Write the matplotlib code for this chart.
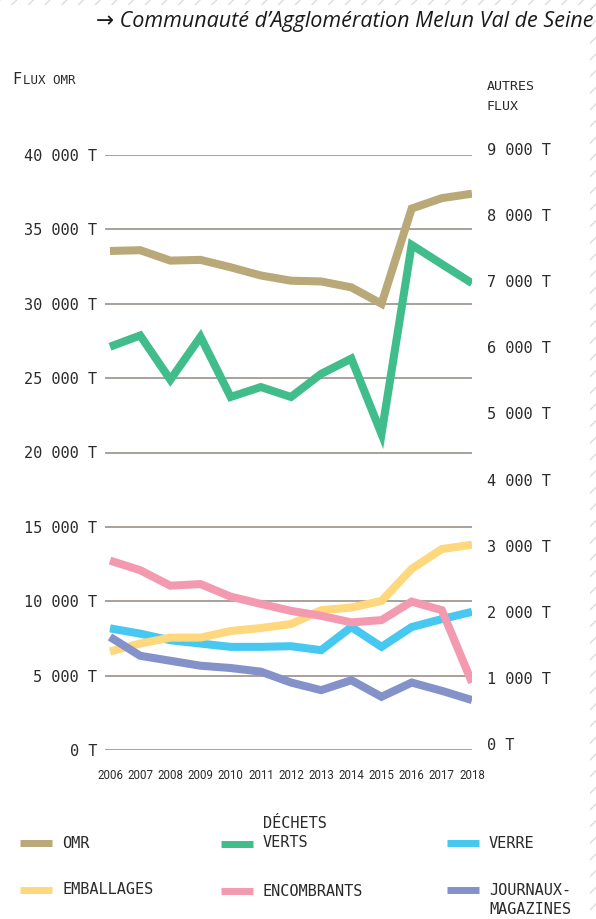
import matplotlib
matplotlib.use("Agg")
import matplotlib.pyplot as plt
import matplotlib.transforms as mtransforms
from matplotlib.lines import Line2D
from matplotlib.patches import Rectangle

# Data (tonnes per year)
years = list(range(2006, 2019))
omr = [33550, 33600, 32900, 32950, 32450, 31900, 31550, 31500, 31100, 30000, 36400, 37100, 37400]
dechets_verts = [6100, 6270, 5600, 6250, 5340, 5490, 5340, 5690, 5920, 4780, 7640, 7350, 7060]
verre = [1840, 1760, 1660, 1610, 1560, 1560, 1570, 1510, 1860, 1560, 1860, 1980, 2090]
emballages = [1490, 1610, 1700, 1700, 1800, 1845, 1905, 2115, 2155, 2255, 2740, 3040, 3105]
encombrants = [2865, 2720, 2485, 2510, 2320, 2210, 2105, 2030, 1930, 1965, 2245, 2115, 1020]
journaux = [1710, 1425, 1350, 1275, 1240, 1185, 1020, 905, 1055, 805, 1020, 895, 755]

left_ticks = [0, 5000, 10000, 15000, 20000, 25000, 30000, 35000, 40000]
right_ticks = [0, 1000, 2000, 3000, 4000, 5000, 6000, 7000, 8000, 9000]

colors = {
    "omr": "#b9a878",
    "verts": "#40bd8b",
    "verre": "#46c8f1",
    "emballages": "#ffd77c",
    "encombrants": "#f49ab0",
    "journaux": "#8591c9",
}

W, H = 596, 919
MONO = "DejaVu Sans Mono"
TXT = "#2a2a2a"


def fx(x):
    return x / W


def fy(y):
    return 1 - y / H


def fmt(v):
    return f"{v:,}".replace(",", " ") + " T"


fig = plt.figure(figsize=(W / 100, H / 100), dpi=100)

# hatched frame along top and right edge
for r in [Rectangle((0, fy(5)), 1, 5 / H), Rectangle((fx(590), 0), 6 / W, 1)]:
    r.set_transform(fig.transFigure)
    r.set_fill(False)
    r.set_hatch("//")
    r.set_edgecolor("#dcdcdc")
    r.set_linewidth(0)
    fig.patches.append(r)

ax = fig.add_axes([fx(105), fy(750), fx(472) - fx(105), fy(155) - fy(750)])
ax2 = ax.twinx()

lw = 5.8
ax.plot(years, omr, color=colors["omr"], lw=lw, solid_joinstyle="miter", solid_capstyle="butt")
for key, vals in [("verts", dechets_verts), ("verre", verre), ("emballages", emballages),
                  ("encombrants", encombrants), ("journaux", journaux)]:
    ax2.plot(years, vals, color=colors[key], lw=lw, solid_joinstyle="miter", solid_capstyle="butt")

step = (472 - 110) / 12
ax.set_xlim(2006 - 5 / step, 2018)
ax.set_ylim(0, 40000)
ax2.set_ylim(0, 9000)

ax.set_yticks(left_ticks)
ax.set_yticklabels([fmt(v) for v in left_ticks], fontsize=11, family=MONO, color=TXT)
ax2.set_yticks(right_ticks)
ax2.set_yticklabels([fmt(v) for v in right_ticks], fontsize=11, family=MONO, color=TXT)
ax.set_xticks(years)
ax.set_xticklabels([str(y) for y in years], fontsize=8.3, family="Roboto", color=TXT)

ax.tick_params(axis="y", length=0, pad=5.5)
ax.tick_params(axis="x", length=0, pad=14)
ax2.tick_params(axis="y", length=0, pad=10.5)

ax.yaxis.grid(True, color="#a39893", lw=1.3)
ax.set_axisbelow(True)
for a in (ax, ax2):
    for s in a.spines.values():
        s.set_visible(False)

# right labels sit a little higher than the gridlines
shift = mtransforms.ScaledTranslation(0, 6 / 100, fig.dpi_scale_trans)
for t in ax2.yaxis.get_major_ticks():
    t.label2.set_transform(t.label2.get_transform() + shift)

# titles
fig.text(fx(593), fy(21), "\u2192 Communauté d\u2019Agglomération Melun Val de Seine",
         ha="right", va="center", fontsize=15.5, family=["Open Sans", "DejaVu Sans"],
         style="italic", color="#1a1a1a")
fig.text(fx(12), fy(80), "F", ha="left", va="center", fontsize=11, family=MONO, color=TXT)
fig.text(fx(23), fy(81), "LUX OMR", ha="left", va="center", fontsize=9, family=MONO, color=TXT)
fig.text(fx(487), fy(80), "AUTRES\nFLUX", ha="left", va="top", fontsize=9.5, family=MONO,
         color=TXT, linespacing=1.75)

# legend
legend_items = [
    ("OMR", "omr", 20, 843, 843),
    ("DÉCHETS\nVERTS", "verts", 221, 844, 833),
    ("VERRE", "verre", 447, 843, 843),
    ("EMBALLAGES", "emballages", 20, 890, 890),
    ("ENCOMBRANTS", "encombrants", 221, 891, 891),
    ("JOURNAUX-\nMAGAZINES", "journaux", 447, 890, 900),
]
for label, key, x0, ys, yt in legend_items:
    fig.add_artist(Line2D([fx(x0), fx(x0 + 32)], [fy(ys), fy(ys)], transform=fig.transFigure,
                          color=colors[key], lw=5, solid_capstyle="butt"))
    fig.text(fx(x0 + 42), fy(yt), label, ha="left", va="center", fontsize=11, family=MONO,
             color=TXT, linespacing=1.3)

fig.savefig("out.png", dpi=100)
